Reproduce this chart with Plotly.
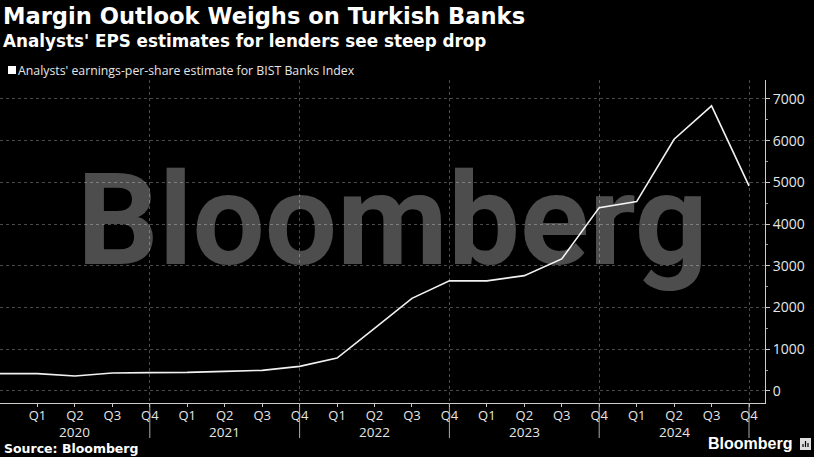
import plotly.graph_objects as go

# ---- data ----
quarter_labels = ["Q4", "Q1", "Q2", "Q3", "Q4", "Q1", "Q2", "Q3", "Q4", "Q1", "Q2", "Q3", "Q4",
                  "Q1", "Q2", "Q3", "Q4", "Q1", "Q2", "Q3", "Q4"]
years = ["2020", "2021", "2022", "2023", "2024"]
eps = [415, 415, 360, 430, 440, 445, 470, 495, 590, 790, 1500, 2220, 2640,
       2640, 2765, 3165, 4395, 4540, 6035, 6835, 4915]
y_ticks = [0, 1000, 2000, 3000, 4000, 5000, 6000, 7000]

W, H = 814, 457
L, R, T, B = 0, 49, 80, 54
PW, PH = W - L - R, H - T - B

def px(x):
    return (x - L) / PW

def py(y):
    return (H - B - y) / PH

idx = list(range(len(eps)))

fig = go.Figure()
fig.add_trace(go.Scatter(x=idx, y=eps, mode="lines",
                         line=dict(color="#f2f2f2", width=1.6),
                         showlegend=False, hoverinfo="skip"))

TXT = "#e6e6e6"
GRID = "#4a4a4a"

fig.update_layout(
    width=W, height=H,
    margin=dict(l=L, r=R, t=T, b=B),
    paper_bgcolor="black", plot_bgcolor="black",
    showlegend=False,
    xaxis=dict(
        range=[0, PW / 37.45],
        tickvals=idx[1:], ticktext=quarter_labels[1:],
        showgrid=False, zeroline=False,
        showline=True, linecolor="#cccccc", linewidth=1,
        ticks="outside", ticklen=3, tickcolor="#cccccc",
        ticklabelstandoff=-3,
        tickfont=dict(family="Open Sans", size=13, color=TXT),
        minor=dict(tickvals=[4, 8, 12, 16, 20], showgrid=True, griddash="dot",
                   gridcolor=GRID, gridwidth=1, ticks=""),
        fixedrange=True,
    ),
    yaxis=dict(
        side="right", range=[-288, 7455],
        tickvals=y_ticks, ticktext=[str(v) for v in y_ticks],
        showgrid=True, griddash="dot", gridcolor=GRID, gridwidth=1,
        zeroline=False,
        showline=True, linecolor="#cccccc", linewidth=1,
        ticks="outside", ticklen=4, tickcolor="#cccccc",
        tickfont=dict(family="Open Sans", size=14, color=TXT),
        minor=dict(dtick=500, ticks="outside", ticklen=2, tickcolor="#999999"),
        fixedrange=True,
    ),
)

ann = []
# watermark
ann.append(dict(text="<b>Bloomberg</b>", x=px(393), y=py(220), xref="paper", yref="paper",
                xanchor="center", yanchor="middle", showarrow=False,
                font=dict(family="Roboto", size=128, color="rgba(255,255,255,0.30)")))
# titles
ann.append(dict(text="<b>Margin Outlook Weighs on Turkish Banks</b>", x=px(1), y=py(16),
                xref="paper", yref="paper", xanchor="left", yanchor="middle", showarrow=False,
                font=dict(family="DejaVu Sans", size=22.6, color="white")))
ann.append(dict(text="<b>Analysts' EPS estimates for lenders see steep drop</b>", x=px(1), y=py(41),
                xref="paper", yref="paper", xanchor="left", yanchor="middle", showarrow=False,
                font=dict(family="DejaVu Sans", size=16.8, color="white")))
ann.append(dict(text="Analysts' earnings-per-share estimate for BIST Banks Index", x=px(16), y=py(70),
                xref="paper", yref="paper", xanchor="left", yanchor="middle", showarrow=False,
                font=dict(family="Open Sans", size=12.3, color=TXT)))
# year labels
for i, yr in enumerate(years):
    ann.append(dict(text=yr, x=4 * i + 2, y=py(432), xref="x", yref="paper",
                    xanchor="center", yanchor="middle", showarrow=False,
                    font=dict(family="Open Sans", size=13.5, color=TXT)))
ann.append(dict(text="<b>Source: Bloomberg</b>", x=px(2), y=py(448), xref="paper", yref="paper",
                xanchor="left", yanchor="middle", showarrow=False,
                font=dict(family="DejaVu Sans", size=12.5, color="white")))
ann.append(dict(text="<b>Bloomberg</b>", x=px(794), y=py(444), xref="paper", yref="paper",
                xanchor="right", yanchor="middle", showarrow=False,
                font=dict(family="Liberation Sans", size=16, color="white")))
fig.update_layout(annotations=ann)

shapes = []
# legend square
shapes.append(dict(type="rect", xref="paper", yref="paper",
                   x0=px(8), x1=px(16), y0=py(74), y1=py(66),
                   fillcolor="white", line=dict(width=0)))
# year separators below axis
for v in [4, 8, 12, 16, 20]:
    shapes.append(dict(type="line", xref="x", yref="paper", x0=v, x1=v,
                       y0=0, y1=py(438), line=dict(color="#aaaaaa", width=1)))
# small logo icon
shapes.append(dict(type="rect", xref="paper", yref="paper",
                   x0=px(800), x1=px(811), y0=py(450), y1=py(438),
                   fillcolor="#dddddd", line=dict(width=0)))
for xb, hgt in [(803, 3), (805.5, 6), (808, 4)]:
    shapes.append(dict(type="line", xref="paper", yref="paper",
                       x0=px(xb), x1=px(xb), y0=py(447), y1=py(447 - hgt),
                       line=dict(color="black", width=1.2)))
fig.update_layout(shapes=shapes)

fig.write_html("out.html", config={"displayModeBar": False},
               post_script="document.body.style.margin='0';document.body.style.overflow='hidden';")
